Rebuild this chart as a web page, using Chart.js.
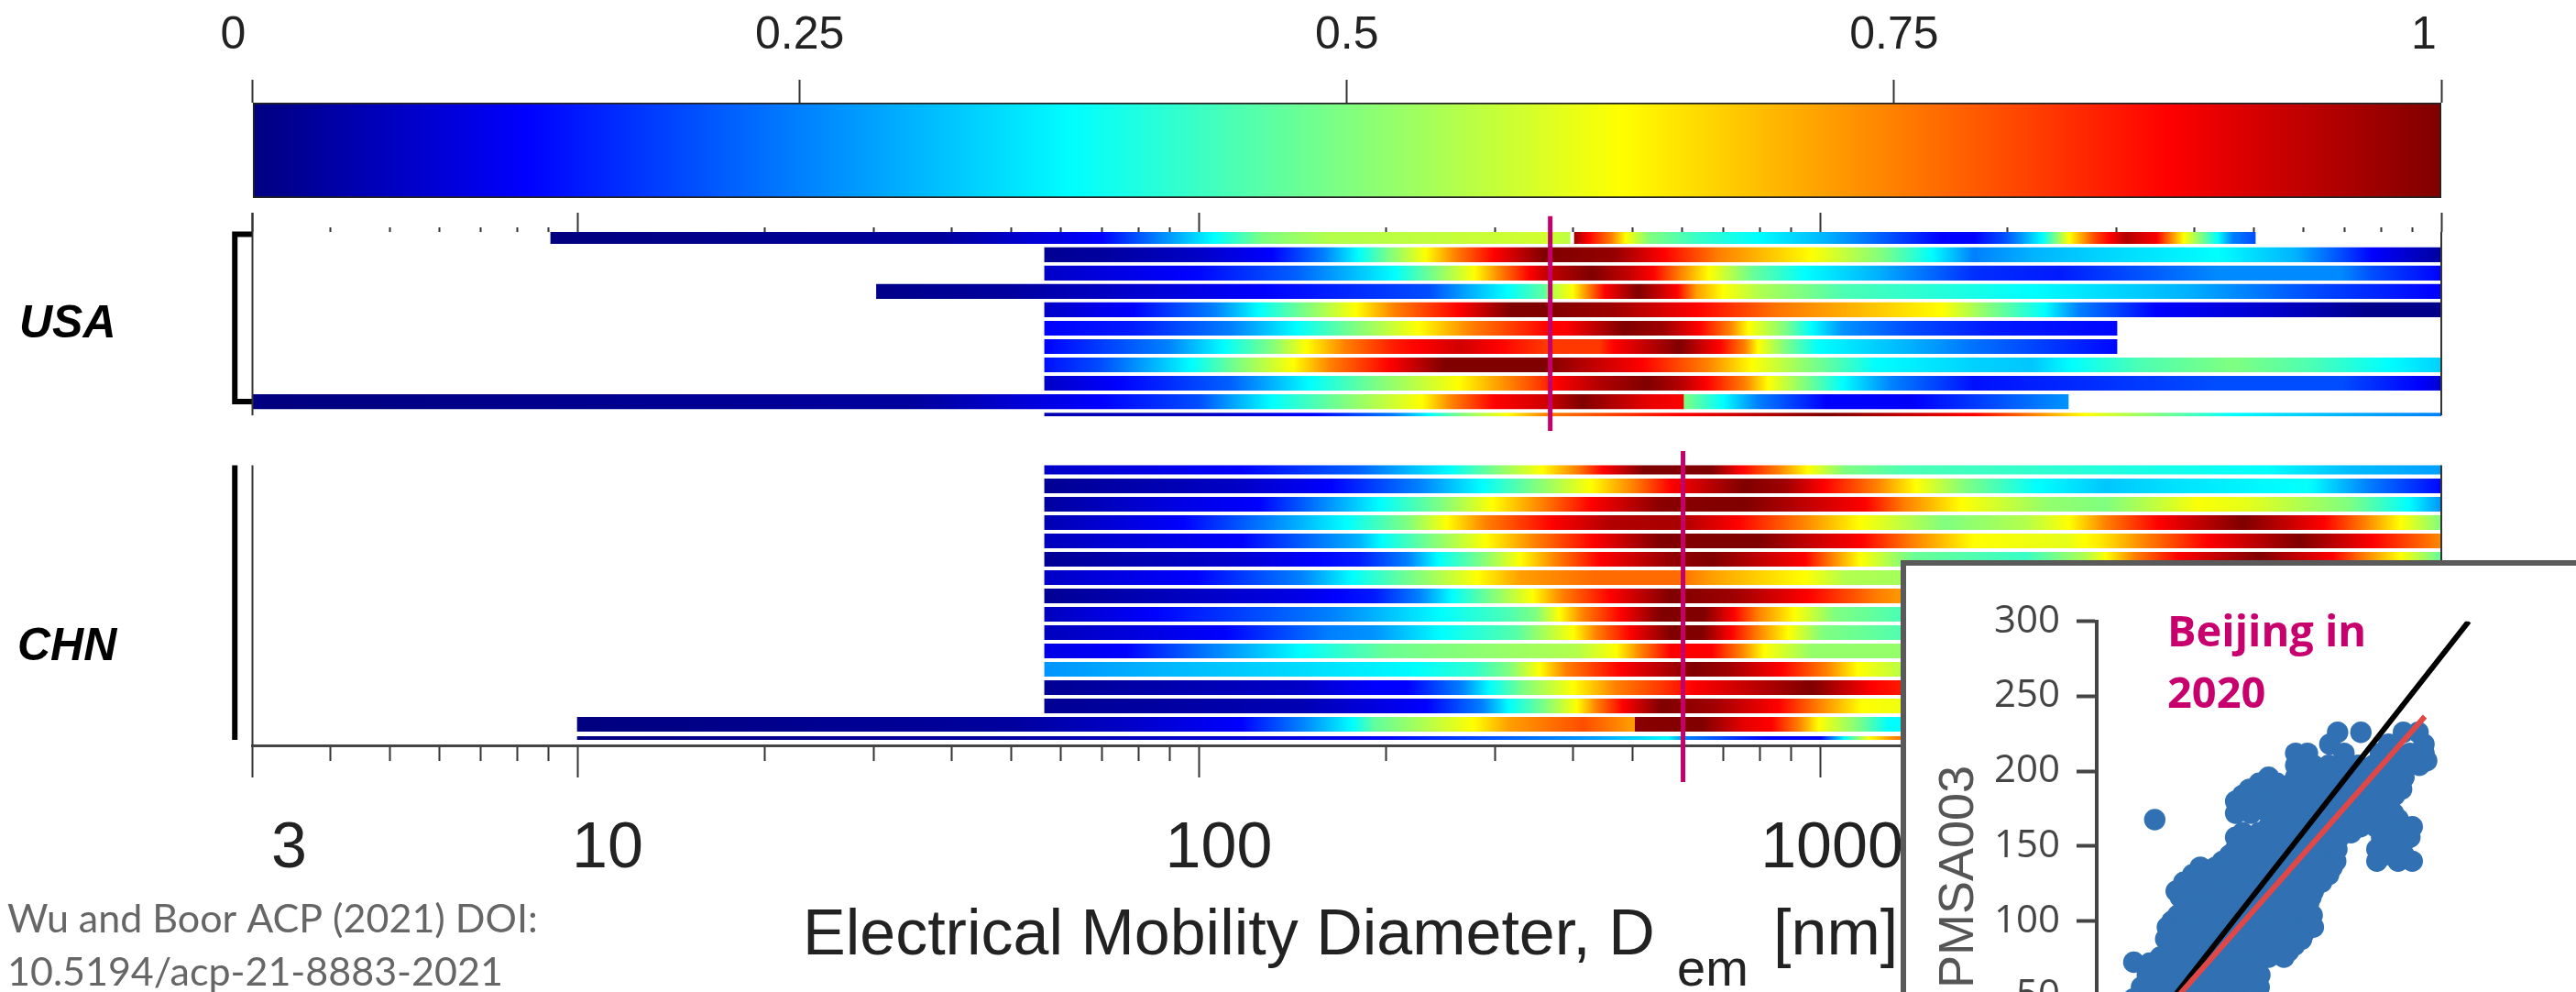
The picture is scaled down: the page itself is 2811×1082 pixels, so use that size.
<!DOCTYPE html>
<html>
<head>
<meta charset="utf-8">
<title>Electrical mobility diameter</title>
<script src="https://cdn.jsdelivr.net/npm/chart.js@4"></script>
<style>
  html, body { margin: 0; width: 2811px; height: 1082px; overflow: hidden; background: #fff; }
  canvas { position: absolute; left: 0; top: 0; }
  #inset { position: absolute; left: 2074px; top: 611px; width: 737px; height: 660px; background: #fff;
           border-left: 6px solid #5a5a5a; border-top: 6px solid #5a5a5a; }
</style>
</head>
<body>
<canvas id="main" width="2811" height="1082"></canvas>
<canvas id="colorbar" width="2811" height="232"></canvas>
<div id="inset"><canvas id="scatter" width="731" height="630"></canvas></div>
<script>
// Valores
const colorbarTicks = [0, 0.25, 0.5, 0.75, 1];
const colorbarStops = [0, 0.125, 0.375, 0.625, 0.875, 1];
const majorTicks = [3, 10, 100, 1000, 10000];
const minorTicks = [4, 5, 6, 7, 8, 9, 20, 30, 40, 50, 60, 70, 80, 90, 200, 300, 400, 500, 600, 700, 800, 900,
  2000, 3000, 4000, 5000, 6000, 7000, 8000, 9000];

// USA: diametro de cada trecho e valor normalizado
const usaDem = [
  [9.06, 38.8, 69.6, 106, 127.5, 162, 361, 396],
  [402.5, 424, 462, 487, 532, 633, 795, 1025, 1572, 1770, 1975, 2070, 2280, 2520, 2760, 3110, 3480, 3850, 4370, 4620, 5020],
  [56.5, 69.6, 100, 131, 159, 181, 203, 232, 259, 299, 361, 466, 560, 689, 968, 1260, 1513, 1770, 2200, 2760, 4370, 5830, 6900, 7760, 10000],
  [56.5, 100, 144, 207, 240, 278, 306, 341, 361, 429, 495, 539, 595, 663, 777, 945, 1233, 1770, 2430, 4370, 6900, 7760, 10000],
  [30.3, 49.3, 127.5, 235, 275, 314, 361, 371, 400, 424, 451, 510, 589, 633, 698, 795, 1087, 1572, 2200, 3880, 6170, 9760, 10000],
  [56.5, 78.4, 106, 125, 149, 179, 207, 262, 318, 361, 466, 633, 858, 1572, 1880, 2300, 2610, 3480, 5500, 7760, 10000],
  [56.5, 78.4, 113, 144, 179, 226, 275, 361, 390, 484, 560, 640, 716, 767, 877, 968, 1087, 1390, 1880, 3006],
  [56.5, 89, 110, 131, 149, 172, 207, 264, 361, 441, 466, 595, 650, 689, 757, 795, 877, 995, 1390, 1746, 3006],
  [56.5, 69.6, 97.6, 116, 142, 163, 203, 249, 361, 414, 518, 657, 777, 968, 1233, 1770, 2200, 2540, 3280, 4620, 6170, 8200, 10000],
  [56.5, 74, 113, 151, 195, 262, 318, 361, 375, 441, 527, 595, 657, 757, 825, 945, 1087, 1310, 1770, 4370, 6900, 9240, 10000],
  [3, 35, 69.6, 100, 116, 131, 172, 229, 256, 299, 361, 414, 527, 603],
  [603, 698, 795, 1025, 1390, 1770, 2510],
  [56.5, 100, 153, 207, 235, 264, 314, 361, 595, 1025, 1770, 2200, 2670, 3480, 4620, 6900, 10000]
];
const usaVal = [
  [0, 0.03, 0.125, 0.375, 0.5, 0.55, 0.58, 0.56],
  [0.97, 0.875, 0.75, 0.625, 0.5, 0.43, 0.375, 0.3, 0.125, 0.125, 0.2, 0.25, 0.375, 0.625, 0.8, 0.95, 0.88, 0.625, 0.375, 0.25, 0.2],
  [0.02, 0.03, 0.07, 0.125, 0.25, 0.375, 0.5, 0.625, 0.75, 0.875, 1, 0.98, 0.875, 0.75, 0.625, 0.5, 0.375, 0.25, 0.3, 0.33, 0.375, 0.3, 0.2, 0.125, 0.03],
  [0.07, 0.13, 0.22, 0.375, 0.5, 0.625, 0.75, 0.875, 0.93, 1, 0.93, 0.875, 0.75, 0.625, 0.48, 0.375, 0.3, 0.17, 0.15, 0.26, 0.26, 0.2, 0.125],
  [0.01, 0.03, 0.125, 0.2, 0.3, 0.375, 0.47, 0.55, 0.625, 0.75, 0.875, 1, 0.875, 0.72, 0.625, 0.55, 0.45, 0.41, 0.375, 0.3, 0.2, 0.125, 0.12],
  [0.07, 0.125, 0.25, 0.375, 0.5, 0.625, 0.75, 0.875, 1, 1, 0.97, 0.875, 0.76, 0.625, 0.5, 0.375, 0.25, 0.125, 0.07, 0.01, 0.01],
  [0.125, 0.15, 0.25, 0.375, 0.5, 0.625, 0.75, 0.87, 0.875, 1, 0.97, 0.875, 0.75, 0.625, 0.5, 0.375, 0.27, 0.2, 0.15, 0.13],
  [0.125, 0.25, 0.375, 0.5, 0.625, 0.75, 0.85, 0.92, 0.82, 0.82, 0.875, 1, 0.92, 0.875, 0.75, 0.625, 0.5, 0.375, 0.3, 0.24, 0.13],
  [0.14, 0.2, 0.375, 0.5, 0.625, 0.75, 0.875, 1, 1, 0.95, 0.875, 0.75, 0.625, 0.5, 0.375, 0.33, 0.32, 0.375, 0.45, 0.5, 0.45, 0.375, 0.33],
  [0.07, 0.125, 0.22, 0.375, 0.5, 0.625, 0.75, 0.83, 0.875, 0.95, 1, 0.95, 0.875, 0.75, 0.625, 0.5, 0.375, 0.25, 0.14, 0.2, 0.2, 0.125, 0.08],
  [0, 0.03, 0.125, 0.2, 0.3, 0.375, 0.5, 0.625, 0.75, 0.875, 0.92, 1, 0.9, 0.875],
  [0.5, 0.375, 0.25, 0.125, 0.12, 0.18, 0.27],
  [0.05, 0.06, 0.125, 0.25, 0.375, 0.5, 0.625, 0.75, 0.875, 1, 0.875, 0.75, 0.625, 0.5, 0.375, 0.3, 0.25]
];
const usaRow = [0.32, 0.32, 1.24, 2.24, 3.24, 4.24, 5.25, 6.25, 7.25, 8.25, 9.26, 9.26, 9.96];

// CHN: a parte direita das linhas inferiores fica escondida pelo quadro
const chnDem = [
  [56.5, 117, 181, 254, 301, 357, 406, 448, 520, 669, 747, 858, 957, 1095, 1370, 5250, 7090, 10000],
  [56.5, 117, 163, 226, 286, 349, 428, 501, 575, 755, 877, 1015, 1233, 1427, 1710, 2240, 2885, 3880, 6090, 7630, 10000],
  [56.5, 94.4, 125, 181, 196, 246, 297, 357, 428, 554, 755, 970, 1183, 1370, 1690, 2310, 2885, 4070, 4870, 7090, 8860, 10000],
  [56.5, 94.4, 139, 173, 217, 251, 290, 371, 460, 590, 737, 935, 1160, 1590, 2140, 2520, 2885, 3500, 4800, 6480, 7530, 8600, 10000],
  [56.5, 117, 181, 197, 238, 290, 349, 432, 554, 800, 970, 1166, 1410, 1765, 2490, 2850, 3350, 4200, 5920, 7760, 10000],
  [56.5, 117, 181, 217, 243, 286, 329, 376, 443, 575, 669, 945, 1045, 1160, 1410, 2140, 2680, 2885, 3210, 3780, 5090, 6680, 7530, 8600, 10000],
  [56.5, 98.9, 146, 177, 192, 246, 281, 330, 432, 590, 669, 945, 1095, 1474],
  [56.5, 146, 166, 192, 226, 256, 297, 345, 385, 460, 575, 727, 957, 1244, 1474],
  [56.5, 84.6, 163, 192, 246, 316, 349, 381, 416, 478, 554, 650, 727, 795, 911, 1056, 1474],
  [56.5, 110, 163, 192, 246, 325, 401, 437, 495, 575, 645, 720, 795, 889, 1010, 1474],
  [56.5, 76.3, 105, 146, 202, 406, 470, 515, 575, 669, 747, 813, 970, 1474],
  [56.5, 84.6, 146, 217, 277, 316, 354, 390, 478, 625, 710, 866, 1025, 1150, 1474],
  [56.5, 146, 193, 217, 265, 294, 334, 401, 470, 554, 625, 970, 1215, 1474],
  [56.5, 146, 232, 286, 316, 361, 406, 437, 482, 556, 669, 858, 996, 1166, 1474],
  [10, 49.3, 76.3, 117, 146, 177, 192, 277, 316, 416, 501, 503],
  [503, 645, 755, 835, 925, 996, 1150, 1290, 1474],
  [10, 49.3, 181, 432, 568, 611, 825, 1000, 1095, 1200, 1325, 1474]
];
const chnVal = [
  [0.07, 0.125, 0.22, 0.375, 0.5, 0.625, 0.75, 0.875, 1, 1, 0.875, 0.75, 0.625, 0.5, 0.45, 0.375, 0.31, 0.28],
  [0.02, 0.07, 0.125, 0.25, 0.375, 0.5, 0.625, 0.75, 0.875, 1, 0.97, 0.875, 0.75, 0.625, 0.5, 0.375, 0.32, 0.35, 0.38, 0.25, 0.13],
  [0.03, 0.1, 0.125, 0.33, 0.375, 0.5, 0.625, 0.75, 0.875, 0.99, 1, 0.93, 0.875, 0.75, 0.625, 0.52, 0.5, 0.62, 0.6, 0.5, 0.375, 0.27],
  [0.05, 0.125, 0.28, 0.375, 0.5, 0.625, 0.75, 0.875, 0.95, 0.96, 0.875, 0.75, 0.625, 0.5, 0.55, 0.625, 0.75, 0.875, 1, 0.875, 0.75, 0.625, 0.5],
  [0.06, 0.125, 0.3, 0.375, 0.5, 0.625, 0.75, 0.875, 1, 1, 0.93, 0.875, 0.75, 0.625, 0.6, 0.65, 0.75, 0.875, 1, 0.875, 0.74],
  [0.02, 0.08, 0.15, 0.25, 0.375, 0.5, 0.625, 0.75, 0.875, 0.98, 1, 0.875, 0.75, 0.625, 0.48, 0.43, 0.55, 0.625, 0.75, 0.875, 1, 0.875, 0.75, 0.625, 0.47],
  [0.07, 0.125, 0.25, 0.375, 0.42, 0.55, 0.625, 0.72, 0.77, 0.77, 0.72, 0.625, 0.55, 0.53],
  [0.02, 0.1, 0.125, 0.15, 0.25, 0.375, 0.5, 0.625, 0.75, 0.875, 1, 0.97, 0.875, 0.75, 0.7],
  [0.06, 0.125, 0.25, 0.3, 0.375, 0.45, 0.5, 0.625, 0.75, 0.875, 1, 1, 0.875, 0.75, 0.625, 0.5, 0.43],
  [0.06, 0.125, 0.25, 0.27, 0.375, 0.46, 0.625, 0.75, 0.875, 1, 1, 0.875, 0.75, 0.625, 0.5, 0.44],
  [0.1, 0.125, 0.25, 0.375, 0.48, 0.55, 0.625, 0.75, 0.875, 0.875, 0.75, 0.625, 0.52, 0.52],
  [0.27, 0.3, 0.34, 0.37, 0.42, 0.5, 0.625, 0.75, 0.875, 1, 0.97, 0.875, 0.75, 0.625, 0.52],
  [0.02, 0.07, 0.125, 0.125, 0.25, 0.375, 0.5, 0.625, 0.75, 0.82, 0.875, 1, 0.875, 0.83],
  [0.02, 0.05, 0.125, 0.25, 0.375, 0.5, 0.625, 0.75, 0.875, 1, 0.97, 0.875, 0.75, 0.625, 0.6],
  [0, 0.03, 0.07, 0.125, 0.25, 0.375, 0.47, 0.625, 0.72, 0.8, 0.72, 0.72],
  [0.99, 1, 0.9, 0.875, 0.75, 0.625, 0.5, 0.375, 0.37],
  [0, 0.03, 0.11, 0.28, 0.37, 0.25, 0.125, 0.12, 0.375, 0.625, 0.75, 0.75]
];
const chnRow = [12.98, 13.85, 14.85, 15.85, 16.85, 17.85, 18.85, 19.85, 20.85, 21.85, 22.85, 23.85, 24.85, 25.85, 26.85, 26.85, 27.6];

// Diametros da moda (linhas verticais)
const usaMode = 368;
const chnMode = 602;

// Quadro de Pequim
const pmsaTicks = [50, 100, 150, 200, 250, 300];
const pmsaRows = [
  [226, [188.6, 208.4, 244.5, 257]],
  [218, [182, 232, 262]],
  [212, [153, 163, 194, 225, 238, 250, 262]],
  [207, [264.3]],
  [204, [153, 168, 181, 194, 206, 219, 232, 245, 258]],
  [200, [160, 175, 188, 200, 212, 225, 238]],
  [196, [130, 153, 168, 181, 194, 206, 219, 232, 245]],
  [192, [122, 137, 150, 163, 176, 189, 202, 215, 228, 240]],
  [188, [113.7, 130, 143, 156, 169, 182, 195, 208, 221, 234, 243]],
  [184, [108, 120, 133, 146, 159, 172, 185, 198, 211, 224, 237]],
  [180, [102, 113, 126, 139, 152, 165, 178, 191, 204, 217, 230]],
  [176, [108, 121, 134, 147, 160, 173, 186, 199, 212, 225, 232]],
  [172, [102, 115, 130, 143, 156, 169, 182, 195, 208, 221, 236]],
  [168, [135, 148, 161, 174, 187, 200, 213, 226, 240]],
  [167.7, [33.3]],
  [163, [130, 143, 156, 169, 182, 195, 208, 221, 237, 252]],
  [159, [108, 122, 135, 148, 161, 174, 187, 200, 232, 246]],
  [156, [102, 115, 128, 141, 154, 167, 180, 190, 226, 240, 250]],
  [152, [108, 121, 134, 147, 160, 173, 186, 230, 244]],
  [148, [102, 115, 128, 141, 154, 167, 180, 188, 222, 238, 242]],
  [144, [97, 110, 123, 136, 149, 162, 175, 186, 228, 245]],
  [140, [91, 104, 117, 130, 143, 156, 169, 182, 187, 222, 240, 252]],
  [136, [72, 85, 98, 111, 124, 137, 150, 163, 176, 184]],
  [131, [65.5, 78, 91, 104, 117, 130, 143, 156, 169, 181]],
  [126, [58, 72, 85, 98, 111, 124, 137, 150, 163, 175]],
  [120, [51.5, 65, 78, 91, 104, 117, 130, 143, 156, 168]],
  [116, [55, 68, 81, 94, 107, 120, 133, 146, 159, 166]],
  [112, [60, 73, 86, 99, 112, 125, 138, 151, 164]],
  [108, [58, 72, 85, 98, 111, 124, 137, 150, 163]],
  [104, [53, 66, 79, 92, 105, 118, 131, 144, 157, 167]],
  [100, [48, 60, 73, 86, 99, 112, 125, 138, 151, 164]],
  [96, [44, 57, 70, 83, 96, 109, 122, 135, 148, 161, 168]],
  [92, [48, 62, 75, 88, 101, 114, 127, 140, 153, 160]],
  [88, [42.6, 55, 68, 81, 94, 107, 120, 133, 146, 158]],
  [84, [50, 64, 77, 90, 103, 116, 129, 142, 152]],
  [80, [46, 59, 72, 85, 98, 111, 124, 137, 147]],
  [76, [38, 52, 65, 78, 91, 104, 117, 130, 143]],
  [72.6, [15.5]],
  [72, [29, 42, 55, 68, 81, 94, 107, 120]],
  [68, [35, 48, 61, 74, 87, 100, 113, 120]],
  [64, [27, 40, 53, 66, 79, 92, 105, 118, 122.6]],
  [60, [30, 43, 56, 69, 82, 95, 108, 120]],
  [56, [22, 35, 48, 61, 74, 87, 100, 113, 122]],
  [48, [15, 28, 41, 54, 67, 80, 93, 106, 116]]
];
const identityLine = [0, 300];
const fitLine = [[0, 262.7], [2.7, 236.5]];

// Colormap jet
function jet(v) {
  const ramp = c => Math.round(255 * Math.max(0, Math.min(1, 1.5 - Math.abs(4 * v - c))));
  return `rgb(${ramp(3)},${ramp(2)},${ramp(1)})`;
}

// Gradiente do trecho, usando a escala para achar a posicao de cada parada
function barGradient(chart, dem, val) {
  const scale = chart.scales.x;
  const x0 = scale.getPixelForValue(dem[0]);
  const x1 = scale.getPixelForValue(dem[dem.length - 1]);
  // as opcoes tambem sao lidas antes do layout
  if (!chart.chartArea || !isFinite(x0) || !isFinite(x1)) return 'transparent';
  const grad = chart.ctx.createLinearGradient(x0, 0, x1, 0);
  for (let i = 0; i < dem.length - 1; i++) {
    const a = scale.getPixelForValue(dem[i]);
    const b = scale.getPixelForValue(dem[i + 1]);
    for (let k = 0; k <= 8; k++) {
      grad.addColorStop((a + (b - a) * k / 8 - x0) / (x1 - x0), jet(val[i] + (val[i + 1] - val[i]) * k / 8));
    }
  }
  return grad;
}

function rowDatasets(dem, val, row, sizes) {
  return dem.map((d, i) => ({
    indexAxis: 'y',
    order: 2,
    grouped: false,
    barThickness: sizes[i],
    data: [{ x: [d[0], d[d.length - 1]], y: row[i] }],
    backgroundColor: ctx => barGradient(ctx.chart, d, val[i])
  }));
}

function vline(x, yFrom, yTo, color, width) {
  return {
    type: 'line', indexAxis: 'y', order: 1, clip: false, pointRadius: 0,
    borderColor: color, borderWidth: width,
    data: [{ x: x, y: yFrom }, { x: x, y: yTo }]
  };
}

const setTicks = values => scale => { scale.ticks = values.map(value => ({ value })); };

function logAxis(values, yPos, length, border) {
  return {
    type: 'logarithmic', min: 3, max: 10000, position: { y: yPos }, offset: false,
    afterBuildTicks: setTicks(values),
    ticks: { display: false, autoSkip: false },
    grid: { offset: false, drawOnChartArea: false, tickLength: length, tickWidth: 2, tickColor: '#333' },
    border: border ? { color: '#444', width: 3 } : { display: false }
  };
}

// Rotulos desenhados na mao, quando nao ficam centrados na marca
const textPlugin = items => ({
  id: 'texts',
  afterDraw(chart) {
    const ctx = chart.ctx;
    ctx.save();
    items(chart).forEach(t => {
      ctx.font = t.font;
      ctx.fillStyle = t.color;
      ctx.textAlign = t.align || 'left';
      ctx.textBaseline = 'alphabetic';
      ctx.fillText(t.text, t.x, t.y);
    });
    ctx.restore();
  }
});

const usaSizes = [12.7, 12.7, 15.5, 15.5, 15.5, 15.5, 15.5, 15.5, 15.5, 15.5, 15.5, 15.5, 3];
const chnSizes = [9.3, 15.5, 15.5, 15.5, 15.5, 15.5, 15.5, 15.5, 15.5, 15.5, 15.5, 15.5, 15.5, 15.5, 15.5, 15.5, 3.4];
const lightAxis = '#333';
const labelShift = { 3: 40, 10: 33, 100: 22, 1000: 13 };

new Chart(document.getElementById('main'), {
  type: 'bar',
  data: {
    datasets: [
      vline(usaMode, -0.865, 10.85, '#c4006a', 5),
      vline(chnMode, 11.95, 30, '#c4006a', 5),
      vline(3, -1.05, 10, lightAxis, 2),
      vline(3, 12.73, 28, lightAxis, 2),
      vline(10000, 0, 10, lightAxis, 2),
      vline(10000, 12.73, 18, lightAxis, 2),
      vline(2.81, 12.73, 27.7, '#000', 6),
      {
        type: 'line', indexAxis: 'y', order: 1, clip: false, pointRadius: 0, borderColor: '#000', borderWidth: 6,
        data: [{ x: 3, y: 0.13 }, { x: 2.81, y: 0.13 }, { x: 2.81, y: 9.25 }, { x: 3, y: 9.25 }]
      },
      ...rowDatasets(usaDem, usaVal, usaRow, usaSizes),
      ...rowDatasets(chnDem, chnVal, chnRow, chnSizes)
    ]
  },
  options: {
    responsive: false,
    animation: false,
    events: [],
    layout: { padding: { left: 275.5, right: 147, top: 253, bottom: 269 } },
    plugins: { legend: { display: false }, tooltip: { enabled: false } },
    scales: {
      x: logAxis(majorTicks, 28, 33, true),
      xMinor: logAxis(minorTicks, 28, 17, false),
      xTop: logAxis(majorTicks, -1.05, 21, false),
      xTopMinor: logAxis(minorTicks, -0.25, 5, false),
      y: { type: 'linear', display: false, reverse: true, min: 0, max: 28, offset: false }
    }
  },
  plugins: [textPlugin(chart => {
    const big = '70px "Liberation Sans"';
    const tag = 'italic bold 50px "Liberation Sans"';
    const cite = '43px Lato';
    const list = majorTicks.slice(0, 4).map(v => ({
      text: String(v), font: big, color: '#222', align: 'center',
      x: chart.scales.x.getPixelForValue(v) + labelShift[v], y: 946
    }));
    return list.concat([
      { text: 'USA', font: tag, color: '#000', x: 21, y: 368 },
      { text: 'CHN', font: tag, color: '#000', x: 19, y: 720 },
      { text: 'Electrical Mobility Diameter, D', font: big, color: '#222', x: 876, y: 1041 },
      { text: 'em', font: '56px "Liberation Sans"', color: '#222', x: 1830, y: 1075 },
      { text: '[nm]', font: big, color: '#222', x: 1935, y: 1041 },
      { text: 'Wu and Boor ACP (2021) DOI:', font: cite, color: '#666', x: 8, y: 1017 },
      { text: '10.5194/acp-21-8883-2021', font: cite, color: '#666', x: 8, y: 1075 }
    ]);
  })]
});

// Barra de cores
new Chart(document.getElementById('colorbar'), {
  type: 'bar',
  data: {
    datasets: [{
      indexAxis: 'y',
      grouped: false,
      barThickness: 104,
      borderColor: '#222',
      borderWidth: 2,
      borderSkipped: false,
      data: [{ x: [colorbarStops[0], colorbarStops[colorbarStops.length - 1]], y: 0.5 }],
      backgroundColor: ctx => barGradient(ctx.chart, colorbarStops, colorbarStops)
    }]
  },
  options: {
    responsive: false,
    animation: false,
    events: [],
    layout: { padding: { left: 275.5, right: 147, top: 112, bottom: 16 } },
    plugins: { legend: { display: false }, tooltip: { enabled: false } },
    scales: {
      x: {
        type: 'linear', min: 0, max: 1, position: { y: 1.24 }, offset: false,
        afterBuildTicks: setTicks(colorbarTicks),
        ticks: { display: false },
        grid: { offset: false, drawOnChartArea: false, tickLength: 25, tickWidth: 2, tickColor: '#333' },
        border: { display: false }
      },
      y: { type: 'linear', display: false, min: 0, max: 1, offset: false }
    }
  },
  plugins: [textPlugin(chart => colorbarTicks.map((v, i) => ({
    text: String(v), font: '50px "Liberation Sans"', color: '#222', align: 'center',
    x: chart.scales.x.getPixelForValue(v) + (i === 0 ? -21 : i === colorbarTicks.length - 1 ? -19 : 0), y: 53
  })))]
});

// Quadro com o grafico de dispersao
const pmsaPoints = [];
pmsaRows.forEach(([y, xs]) => xs.forEach(x => pmsaPoints.push({ x, y })));

new Chart(document.getElementById('scatter'), {
  type: 'scatter',
  data: {
    datasets: [
      {
        type: 'line', order: 0, pointRadius: 0, borderColor: '#e04848', borderWidth: 6,
        data: fitLine[0].map((x, i) => ({ x, y: fitLine[1][i] }))
      },
      {
        type: 'line', order: 1, pointRadius: 0, borderColor: '#000', borderWidth: 6,
        data: identityLine.map(v => ({ x: v, y: v }))
      },
      { order: 2, data: pmsaPoints, pointRadius: 11.7, backgroundColor: '#3070b3', borderWidth: 0 }
    ]
  },
  options: {
    responsive: false,
    animation: false,
    events: [],
    layout: { padding: { left: 0, right: 0, top: 60.7, bottom: 5 } },
    plugins: { legend: { display: false }, tooltip: { enabled: false } },
    scales: {
      x: { type: 'linear', display: false, min: -16, max: 382 },
      y: {
        type: 'linear', min: -41, max: 300,
        afterBuildTicks: setTicks(pmsaTicks),
        afterFit(scale) { scale.width = 208; scale.paddingTop = 0; scale.paddingBottom = 0; },
        ticks: { padding: 18, color: '#444', font: { family: 'Open Sans', size: 42 }, autoSkip: false },
        grid: { drawOnChartArea: false, tickLength: 22, tickWidth: 4, tickColor: '#444' },
        border: { color: '#444', width: 4 },
        title: {
          display: true, text: 'PMSA003', color: '#555',
          font: { family: 'Liberation Sans', size: 54 }, padding: { top: 26, bottom: 0 }
        }
      }
    }
  },
  plugins: [textPlugin(() => [
    { text: 'Beijing in', font: 'bold 47px "Open Sans"', color: '#c8006e', x: 285, y: 88 },
    { text: '2020', font: 'bold 47px "Open Sans"', color: '#c8006e', x: 285, y: 155 }
  ])]
});
</script>
</body>
</html>
